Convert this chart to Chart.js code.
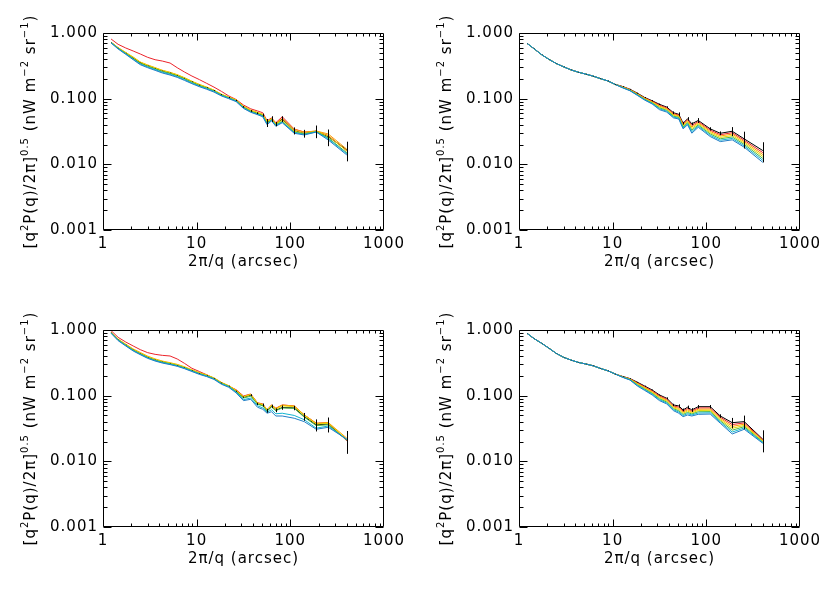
<!DOCTYPE html>
<html>
<head>
<meta charset="utf-8">
<script src="https://cdn.jsdelivr.net/npm/chart.js@4.4.0/dist/chart.umd.min.js"></script>
<style>
  body { margin: 0; background: #fff; width: 830px; height: 593px; position: relative; overflow: hidden; }
  canvas { position: absolute; }
</style>
</head>
<body>
<canvas id="p1" width="415" height="297" style="left:0px;top:0px"></canvas>
<canvas id="p2" width="415" height="297" style="left:416px;top:0px"></canvas>
<canvas id="p3" width="415" height="297" style="left:0px;top:297px"></canvas>
<canvas id="p4" width="415" height="297" style="left:416px;top:297px"></canvas>
<script>
// angular scale 2pi/q (arcsec), shared by all panels
var angScale = [1.22, 1.45, 1.75, 2.1, 2.5, 3.0, 3.6, 4.3, 5.2, 6.2, 7.4, 8.9, 10.7, 12.8, 15.3, 18.4, 22, 26.4,
                31.6, 37.8, 44.6, 50.8, 56.5, 63, 70, 82, 110, 141, 189, 254, 401];
var xTicks = [1, 10, 100, 1000];
var yTicks = [0.001, 0.01, 0.1, 1];

// top left
var tlBlack  = [0.72, 0.59, 0.495, 0.415, 0.352, 0.318, 0.29, 0.265, 0.247, 0.227, 0.205, 0.181, 0.161, 0.147, 0.133, 0.115, 0.104, 0.094, 0.075, 0.065, 0.060, 0.056, 0.043, 0.049, 0.041, 0.049, 0.0325, 0.0295, 0.032, 0.0264, 0.0166];
var tlRed    = [0.810, 0.672, 0.591, 0.532, 0.479, 0.426, 0.392, 0.374, 0.349, 0.296, 0.255, 0.221, 0.195, 0.171, 0.150, 0.129, 0.110, 0.097, 0.080, 0.070, 0.065, 0.061, 0.046, 0.051, 0.043, 0.053, 0.0345, 0.031, 0.032, 0.0275, 0.016];
var tlOrange = [0.725, 0.60, 0.506, 0.431, 0.362, 0.326, 0.297, 0.271, 0.252, 0.232, 0.209, 0.184, 0.165, 0.15, 0.135, 0.117, 0.106, 0.096, 0.077, 0.067, 0.062, 0.058, 0.045, 0.050, 0.042, 0.050, 0.034, 0.031, 0.0322, 0.029, 0.017];
var tlYellow = [0.72, 0.595, 0.5, 0.425, 0.36, 0.322, 0.294, 0.268, 0.25, 0.23, 0.207, 0.183, 0.163, 0.149, 0.134, 0.116, 0.105, 0.095, 0.076, 0.066, 0.061, 0.057, 0.044, 0.049, 0.041, 0.047, 0.032, 0.0295, 0.0318, 0.027, 0.016];
var tlGreen  = [0.715, 0.585, 0.49, 0.41, 0.345, 0.31, 0.284, 0.259, 0.241, 0.222, 0.2, 0.177, 0.158, 0.145, 0.131, 0.114, 0.103, 0.093, 0.074, 0.064, 0.059, 0.055, 0.042, 0.048, 0.040, 0.045, 0.031, 0.029, 0.0315, 0.0252, 0.015];
var tlCyan   = [0.71, 0.58, 0.48, 0.40, 0.337, 0.303, 0.277, 0.252, 0.235, 0.216, 0.195, 0.173, 0.155, 0.142, 0.129, 0.112, 0.102, 0.092, 0.073, 0.063, 0.058, 0.054, 0.041, 0.047, 0.039, 0.044, 0.0305, 0.0285, 0.0312, 0.0245, 0.0145];
var tlBlue   = [0.704, 0.571, 0.473, 0.392, 0.329, 0.296, 0.270, 0.246, 0.229, 0.211, 0.190, 0.169, 0.152, 0.139, 0.126, 0.110, 0.100, 0.090, 0.071, 0.062, 0.057, 0.053, 0.040, 0.046, 0.038, 0.043, 0.0297, 0.028, 0.031, 0.0235, 0.0139];
var tlErr    = [0.004, 0.003, 0.003, 0.002, 0.002, 0.002, 0.002, 0.002, 0.002, 0.002, 0.002, 0.002, 0.002, 0.002, 0.002, 0.002, 0.002, 0.002, 0.002, 0.002, 0.002, 0.003, 0.006, 0.005, 0.003, 0.005, 0.004, 0.004, 0.007, 0.0075, 0.0055];

// top right
var trBlack  = [0.695, 0.575, 0.466, 0.395, 0.343, 0.305, 0.274, 0.253, 0.236, 0.220, 0.202, 0.186, 0.165, 0.153, 0.139, 0.121, 0.104, 0.093, 0.082, 0.0744, 0.061, 0.0578, 0.0423, 0.0493, 0.0414, 0.0466, 0.0347, 0.0297, 0.0319, 0.0244, 0.0162];
var trRed    = [0.695, 0.575, 0.466, 0.395, 0.343, 0.305, 0.274, 0.253, 0.236, 0.220, 0.202, 0.186, 0.164, 0.152, 0.138, 0.119, 0.1024, 0.0913, 0.0795, 0.0723, 0.0592, 0.0562, 0.0409, 0.0476, 0.0392, 0.0448, 0.0332, 0.0283, 0.0303, 0.0232, 0.0151];
var trOrange = [0.695, 0.575, 0.466, 0.395, 0.343, 0.305, 0.274, 0.253, 0.236, 0.220, 0.202, 0.186, 0.164, 0.151, 0.137, 0.118, 0.1009, 0.0895, 0.077, 0.0702, 0.0575, 0.0547, 0.0396, 0.046, 0.0371, 0.043, 0.0317, 0.027, 0.0289, 0.0221, 0.0141];
var trYellow = [0.695, 0.575, 0.466, 0.395, 0.343, 0.305, 0.274, 0.253, 0.236, 0.220, 0.202, 0.186, 0.164, 0.149, 0.135, 0.116, 0.0994, 0.0879, 0.0747, 0.0681, 0.0558, 0.0532, 0.0383, 0.0444, 0.0351, 0.0414, 0.0303, 0.0257, 0.0274, 0.0211, 0.0132];
var trGreen  = [0.695, 0.575, 0.466, 0.395, 0.343, 0.305, 0.274, 0.253, 0.236, 0.220, 0.202, 0.186, 0.164, 0.148, 0.134, 0.115, 0.0979, 0.0862, 0.0724, 0.0662, 0.0541, 0.0518, 0.0371, 0.0429, 0.0332, 0.0397, 0.029, 0.0245, 0.0261, 0.0201, 0.0123];
var trCyan   = [0.695, 0.575, 0.466, 0.395, 0.343, 0.305, 0.274, 0.253, 0.236, 0.220, 0.202, 0.186, 0.164, 0.147, 0.133, 0.113, 0.0964, 0.0846, 0.0702, 0.0643, 0.0525, 0.0504, 0.0359, 0.0414, 0.0315, 0.0382, 0.0277, 0.0233, 0.0248, 0.0191, 0.0115];
var trBlue   = [0.695, 0.575, 0.466, 0.395, 0.343, 0.305, 0.274, 0.253, 0.236, 0.220, 0.202, 0.186, 0.164, 0.146, 0.132, 0.112, 0.095, 0.083, 0.068, 0.0624, 0.051, 0.049, 0.0347, 0.040, 0.0298, 0.0367, 0.0265, 0.0222, 0.0236, 0.0182, 0.0107];
var trErr    = [0.003, 0.003, 0.002, 0.002, 0.002, 0.002, 0.002, 0.002, 0.002, 0.002, 0.002, 0.002, 0.002, 0.002, 0.002, 0.002, 0.002, 0.002, 0.002, 0.002, 0.003, 0.004, 0.002, 0.003, 0.002, 0.004, 0.002, 0.002, 0.005, 0.007, 0.0055];

// bottom left
var blBlack  = [0.91, 0.715, 0.592, 0.498, 0.438, 0.386, 0.351, 0.327, 0.309, 0.291, 0.268, 0.242, 0.219, 0.203, 0.184, 0.156, 0.140, 0.117, 0.095, 0.102, 0.075, 0.072, 0.059, 0.069, 0.060, 0.066, 0.065, 0.048, 0.036, 0.037, 0.021];
var blRed    = [0.977, 0.773, 0.656, 0.571, 0.502, 0.452, 0.426, 0.411, 0.402, 0.362, 0.311, 0.261, 0.233, 0.208, 0.184, 0.158, 0.140, 0.123, 0.099, 0.106, 0.078, 0.0748, 0.0606, 0.0722, 0.0643, 0.0722, 0.0697, 0.0508, 0.038, 0.0388, 0.0205];
var blOrange = [0.92, 0.725, 0.61, 0.515, 0.455, 0.40, 0.363, 0.337, 0.318, 0.30, 0.276, 0.248, 0.224, 0.207, 0.187, 0.159, 0.142, 0.121, 0.097, 0.105, 0.077, 0.074, 0.061, 0.072, 0.064, 0.072, 0.0697, 0.051, 0.038, 0.039, 0.0225];
var blYellow = [0.915, 0.72, 0.6, 0.505, 0.444, 0.392, 0.356, 0.331, 0.313, 0.295, 0.272, 0.245, 0.221, 0.205, 0.185, 0.157, 0.141, 0.119, 0.096, 0.104, 0.076, 0.073, 0.060, 0.071, 0.062, 0.070, 0.068, 0.050, 0.037, 0.038, 0.0215];
var blGreen  = [0.91, 0.71, 0.588, 0.494, 0.434, 0.382, 0.347, 0.324, 0.306, 0.288, 0.266, 0.24, 0.217, 0.201, 0.182, 0.154, 0.139, 0.115, 0.092, 0.098, 0.074, 0.070, 0.058, 0.067, 0.059, 0.065, 0.064, 0.047, 0.035, 0.036, 0.021];
var blCyan   = [0.90, 0.70, 0.58, 0.487, 0.428, 0.376, 0.342, 0.319, 0.302, 0.284, 0.262, 0.237, 0.214, 0.198, 0.18, 0.152, 0.137, 0.113, 0.087, 0.092, 0.070, 0.065, 0.056, 0.061, 0.053, 0.054, 0.050, 0.043, 0.032, 0.0345, 0.0215];
var blBlue   = [0.89, 0.688, 0.571, 0.479, 0.421, 0.37, 0.337, 0.314, 0.297, 0.28, 0.258, 0.233, 0.211, 0.195, 0.177, 0.149, 0.134, 0.110, 0.084, 0.088, 0.0666, 0.062, 0.054, 0.057, 0.049, 0.049, 0.0453, 0.0402, 0.0308, 0.033, 0.0217];
var blErr    = [0.004, 0.003, 0.003, 0.002, 0.002, 0.002, 0.002, 0.002, 0.002, 0.002, 0.002, 0.002, 0.002, 0.002, 0.002, 0.002, 0.002, 0.002, 0.002, 0.003, 0.003, 0.004, 0.004, 0.004, 0.004, 0.005, 0.005, 0.0065, 0.0075, 0.0095, 0.008];

// bottom right
var brBlack  = [0.889, 0.738, 0.626, 0.525, 0.44, 0.383, 0.348, 0.321, 0.303, 0.285, 0.26, 0.239, 0.213, 0.196, 0.182, 0.160, 0.140, 0.122, 0.1025, 0.0912, 0.0722, 0.0697, 0.0606, 0.0666, 0.0606, 0.068, 0.068, 0.049, 0.0388, 0.0402, 0.0217];
var brRed    = [0.889, 0.738, 0.626, 0.525, 0.44, 0.383, 0.348, 0.321, 0.303, 0.285, 0.26, 0.239, 0.213, 0.195, 0.1805, 0.1565, 0.1364, 0.1185, 0.0992, 0.0882, 0.0698, 0.0668, 0.0583, 0.0637, 0.0585, 0.065, 0.0651, 0.047, 0.0363, 0.0385, 0.0212];
var brOrange = [0.889, 0.738, 0.626, 0.525, 0.44, 0.383, 0.348, 0.321, 0.303, 0.285, 0.26, 0.239, 0.213, 0.194, 0.179, 0.153, 0.133, 0.1151, 0.0959, 0.0854, 0.0675, 0.064, 0.056, 0.0609, 0.0565, 0.0622, 0.0624, 0.045, 0.034, 0.0368, 0.0207];
var brYellow = [0.889, 0.738, 0.626, 0.525, 0.44, 0.383, 0.348, 0.321, 0.303, 0.285, 0.26, 0.239, 0.213, 0.193, 0.1775, 0.1497, 0.1296, 0.1118, 0.0928, 0.0826, 0.0653, 0.0614, 0.0539, 0.0582, 0.0545, 0.0595, 0.0598, 0.0431, 0.0318, 0.0352, 0.0202];
var brGreen  = [0.889, 0.738, 0.626, 0.525, 0.44, 0.383, 0.348, 0.321, 0.303, 0.285, 0.26, 0.239, 0.213, 0.192, 0.176, 0.1464, 0.1263, 0.1086, 0.0898, 0.0799, 0.0632, 0.0588, 0.0518, 0.0556, 0.0526, 0.0569, 0.0572, 0.0414, 0.0298, 0.0337, 0.0197];
var brCyan   = [0.889, 0.738, 0.626, 0.525, 0.44, 0.383, 0.348, 0.321, 0.303, 0.285, 0.26, 0.239, 0.213, 0.191, 0.1745, 0.1432, 0.1231, 0.1055, 0.0868, 0.0773, 0.0611, 0.0564, 0.0498, 0.0532, 0.0508, 0.0544, 0.0548, 0.0396, 0.0279, 0.0322, 0.0193];
var brBlue   = [0.889, 0.738, 0.626, 0.525, 0.44, 0.383, 0.348, 0.321, 0.303, 0.285, 0.26, 0.239, 0.213, 0.190, 0.173, 0.140, 0.120, 0.1025, 0.084, 0.0748, 0.0591, 0.054, 0.0479, 0.0508, 0.049, 0.052, 0.0525, 0.038, 0.0261, 0.0308, 0.0188];
var brErr    = [0.004, 0.003, 0.003, 0.002, 0.002, 0.002, 0.002, 0.002, 0.002, 0.002, 0.002, 0.002, 0.002, 0.002, 0.002, 0.002, 0.002, 0.002, 0.002, 0.003, 0.003, 0.004, 0.003, 0.004, 0.004, 0.004, 0.004, 0.003, 0.007, 0.0095, 0.008];

var lineColors = ['#000000', '#ec2229', '#ffa000', '#e4dc00', '#4cb848', '#12b4d0', '#1f7dc6'];
var fontFam = "'DejaVu Sans', sans-serif";

Chart.defaults.color = '#000';
Chart.defaults.font.family = fontFam;
Chart.defaults.font.size = 15;

// IDL style box with inward ticks on all four sides
var boxTicks = {
  id: 'boxTicks',
  beforeDraw(chart) {
    chart.ctx.letterSpacing = '1px';
  },
  afterDatasetsDraw(chart) {
    var ctx = chart.ctx, a = chart.chartArea;
    var xs = chart.scales.x, ys = chart.scales.y;
    ctx.save();
    ctx.strokeStyle = '#000';
    ctx.lineWidth = 1;
    var L = Math.round(a.left) + 0.5, R = Math.round(a.right) - 0.5;
    var T = Math.round(a.top) + 0.5, B = Math.round(a.bottom) - 0.5;
    ctx.beginPath();
    ctx.rect(L, T, R - L, B - T);
    // x ticks
    for (var d = 1; d < 1000; d *= 10) {
      for (var m = 1; m <= 9; m++) {
        var px = Math.round(xs.getPixelForValue(m * d)) + 0.5;
        var len = m == 1 ? 7 : 3;
        ctx.moveTo(px, B); ctx.lineTo(px, B - len);
        ctx.moveTo(px, T); ctx.lineTo(px, T + len);
      }
    }
    // y ticks
    for (var e = 0.001; e < 0.99; e *= 10) {
      for (var k = 1; k <= 9; k++) {
        var py = Math.round(ys.getPixelForValue(k * e)) + 0.5;
        var ln = k == 1 ? 8 : 4;
        ctx.moveTo(L, py); ctx.lineTo(L + ln, py);
        ctx.moveTo(R, py); ctx.lineTo(R - ln, py);
      }
    }
    ctx.stroke();

    // error bars on the black curve
    var err = chart.options.plugins.boxTicks.err;
    var black = chart.data.datasets.find(function(ds) { return ds.isBlack; });
    ctx.beginPath();
    black.data.forEach(function(p, i) {
      var x = Math.round(xs.getPixelForValue(p.x)) + 0.5;
      var lo = Math.max(p.y - err[i], 0.0011);
      ctx.moveTo(x, ys.getPixelForValue(p.y + err[i]));
      ctx.lineTo(x, ys.getPixelForValue(lo));
    });
    ctx.stroke();
    ctx.restore();
  },
  afterDraw(chart) {
    // y axis title with superscripts
    var ctx = chart.ctx, a = chart.chartArea;
    var parts = [['[q', 0], ['2', 1], ['P(q)/2\u03C0]', 0], ['0.5', 1], [' (nW m', 0], ['\u22122', 1], [' sr', 0], ['\u22121', 1], [')', 0]];
    ctx.save();
    ctx.fillStyle = '#000';
    ctx.letterSpacing = '1px';
    var total = 0;
    parts.forEach(function(p) {
      ctx.font = (p[1] ? '10px ' : '15px ') + fontFam;
      p.w = ctx.measureText(p[0]).width;
      total += p.w;
    });
    ctx.translate(35, (a.top + a.bottom) / 2);
    ctx.rotate(-Math.PI / 2);
    ctx.textBaseline = 'alphabetic';
    ctx.textAlign = 'left';
    var x = -total / 2;
    parts.forEach(function(p) {
      ctx.font = (p[1] ? '10px ' : '15px ') + fontFam;
      ctx.fillText(p[0], x, p[1] ? -7 : 0);
      x += p.w;
    });
    ctx.restore();
  }
};

function makePanel(id, series, err) {
  var datasets = series.map(function(vals, k) {
    return {
      data: vals.map(function(v, i) { return {x: angScale[i], y: v}; }),
      borderColor: lineColors[k],
      borderWidth: 1,
      pointRadius: 0,
      fill: false,
      tension: 0,
      order: series.length - 1 - k,
      isBlack: k == 0
    };
  });
  return new Chart(document.getElementById(id), {
    type: 'line',
    data: {datasets: datasets},
    plugins: [boxTicks],
    options: {
      responsive: false,
      animation: false,
      layout: {padding: {left: 0, top: 33, right: 31, bottom: 0}},
      plugins: {legend: {display: false}, tooltip: {enabled: false}, boxTicks: {err: err}},
      scales: {
        x: {
          type: 'logarithmic', min: 1, max: 1000,
          afterBuildTicks: function(s) { s.ticks = xTicks.map(function(v) { return {value: v}; }); },
          afterFit: function(s) { s.height = 67; },
          grid: {display: false, drawTicks: false},
          border: {display: false},
          ticks: {autoSkip: false, maxRotation: 0, padding: 5, callback: function(v) { return String(v); }},
          title: {display: true, text: '2\u03C0/q (arcsec)', padding: {top: 0, bottom: 26}}
        },
        y: {
          type: 'logarithmic', min: 0.001, max: 1,
          afterBuildTicks: function(s) { s.ticks = yTicks.map(function(v) { return {value: v}; }); },
          afterFit: function(s) { s.width = 103; },
          grid: {display: false, drawTicks: false},
          border: {display: false},
          ticks: {autoSkip: false, padding: 5, callback: function(v) { return Number(v).toFixed(3); }}
        }
      }
    }
  });
}

makePanel('p1', [tlBlack, tlRed, tlOrange, tlYellow, tlGreen, tlCyan, tlBlue], tlErr);
makePanel('p2', [trBlack, trRed, trOrange, trYellow, trGreen, trCyan, trBlue], trErr);
makePanel('p3', [blBlack, blRed, blOrange, blYellow, blGreen, blCyan, blBlue], blErr);
makePanel('p4', [brBlack, brRed, brOrange, brYellow, brGreen, brCyan, brBlue], brErr);
</script>
</body>
</html>
